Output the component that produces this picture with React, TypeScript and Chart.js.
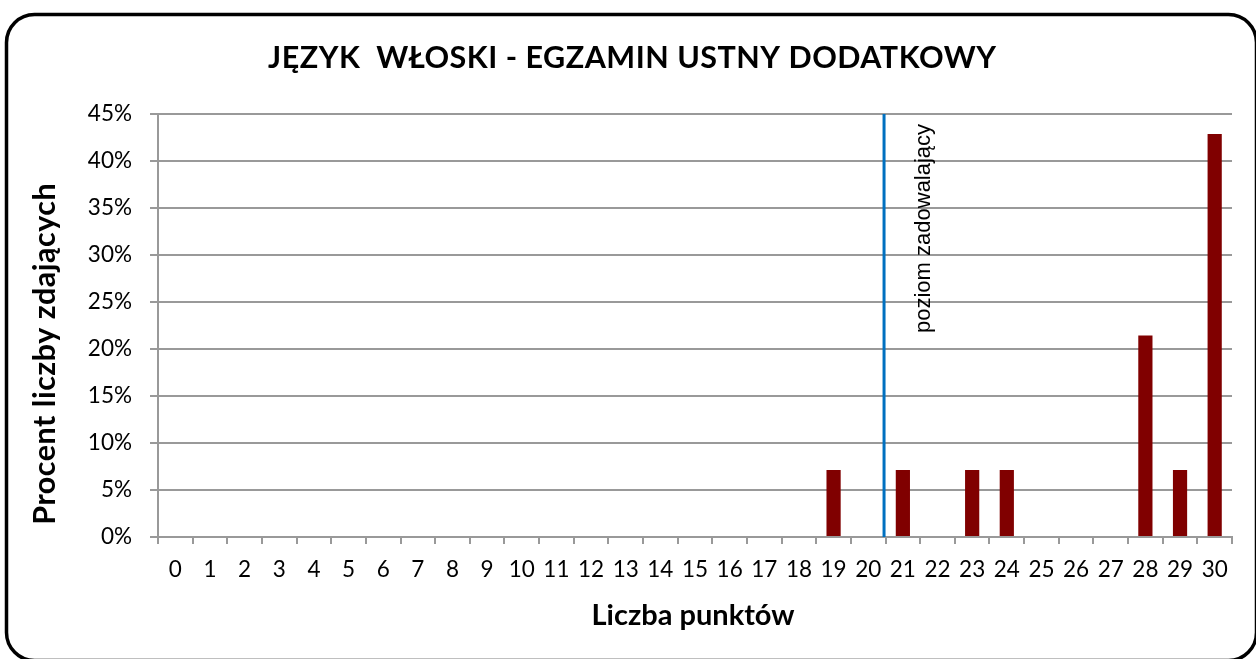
import React, { useEffect, useRef } from "react";
import { Chart, registerables } from "chart.js";

Chart.register(...registerables);

const chartTitle = "JĘZYK  WŁOSKI - EGZAMIN USTNY DODATKOWY";
const xAxisTitle = "Liczba punktów";
const yAxisTitle = "Procent liczby zdających";
const scores = [
  "0", "1", "2", "3", "4", "5", "6", "7", "8", "9", "10",
  "11", "12", "13", "14", "15", "16", "17", "18", "19", "20",
  "21", "22", "23", "24", "25", "26", "27", "28", "29", "30",
];
const percentValues = [
  0, 0, 0, 0, 0, 0, 0, 0, 0, 0, 0,
  0, 0, 0, 0, 0, 0, 0, 0, 7.14, 0,
  7.14, 0, 7.14, 7.14, 0, 0, 0, 21.43, 7.14, 42.86,
];
const yMin = 0;
const yMax = 45;
const yStep = 5;
const thresholdPosition = 20.5;
const thresholdLabel = "poziom zadowalający";

const FONT = "Lato, 'Open Sans', sans-serif";
const GRID = "#999999";

function drawText(ctx: any, text: string, x: number, y: number, font: string, spacing: number, rot: number) {
  ctx.save();
  ctx.translate(x, y);
  if (rot) ctx.rotate(rot);
  ctx.fillStyle = "#000";
  ctx.font = font;
  try {
    ctx.letterSpacing = `${spacing}px`;
  } catch (e) {}
  ctx.textAlign = "center";
  ctx.textBaseline = "alphabetic";
  ctx.fillText(text, spacing / 2, 0);
  ctx.restore();
}

const decorPlugin = {
  id: "decor",
  beforeDraw(chart: any) {
    const { ctx, width, height } = chart;
    ctx.save();
    ctx.fillStyle = "#ffffff";
    ctx.fillRect(0, 0, width, height);
    ctx.restore();
  },
  afterDraw(chart: any) {
    const { ctx, chartArea, scales } = chart;
    const xs = scales.x;
    // border
    ctx.save();
    ctx.strokeStyle = "#000";
    ctx.lineWidth = 3.5;
    ctx.beginPath();
    (ctx as any).roundRect(6.5, 14.5, 1250, 646, 28);
    ctx.stroke();
    ctx.restore();
    // titles
    drawText(ctx, chartTitle, 632, 68, `bold 30.5px ${FONT}`, 0.5, 0);
    drawText(ctx, xAxisTitle, 693, 625, `bold 29px ${FONT}`, 0, 0);
    drawText(ctx, yAxisTitle, 55, 354, `bold 30.5px ${FONT}`, 0.5, -Math.PI / 2);
    // threshold line
    const lx = xs.getPixelForValue(thresholdPosition) - 1.5;
    ctx.save();
    ctx.strokeStyle = "#0070C0";
    ctx.lineWidth = 3;
    ctx.beginPath();
    ctx.moveTo(lx, chartArea.top);
    ctx.lineTo(lx, chartArea.bottom);
    ctx.stroke();
    ctx.restore();
    // threshold label
    ctx.save();
    ctx.translate(lx + 45.5, 333);
    ctx.rotate(-Math.PI / 2);
    ctx.fillStyle = "#000";
    ctx.font = "22px 'Liberation Sans', Arial, sans-serif";
    ctx.textAlign = "left";
    ctx.textBaseline = "alphabetic";
    ctx.fillText(thresholdLabel, 0, 0);
    ctx.restore();
  },
};

export default function App() {
  const ref = useRef<HTMLCanvasElement | null>(null);
  useEffect(() => {
    if (!ref.current) return;
    const chart = new Chart(ref.current, {
      type: "bar",
      data: {
        labels: scores,
        datasets: [
          {
            data: percentValues,
            backgroundColor: "#800000",
            borderWidth: 0,
            barPercentage: 0.41,
            categoryPercentage: 1,
          },
        ],
      },
      options: {
        animation: false,
        responsive: false,
        maintainAspectRatio: false,
        layout: { padding: { left: 18, right: 24, top: 114, bottom: 0 } },
        plugins: {
          legend: { display: false },
          title: { display: false },
          tooltip: { enabled: false },
        },
        scales: {
          x: {
            afterFit: (s: any) => {
              s.height = 122;
            },
            grid: {
              drawOnChartArea: false,
              drawTicks: true,
              tickLength: 7,
              color: GRID,
              lineWidth: 2,
            },
            border: { display: true, color: GRID, width: 2 },
            ticks: {
              color: "#000",
              font: { family: FONT, size: 22.5 },
              padding: 12,
              maxRotation: 0,
              autoSkip: false,
            },
          },
          y: {
            min: yMin,
            max: yMax,
            afterFit: (s: any) => {
              s.width = 140;
            },
            ticks: {
              stepSize: yStep,
              color: "#000",
              font: { family: FONT, size: 22.5 },
              padding: 18,
              callback: (v: any) => `${v}%`,
            },
            grid: {
              color: GRID,
              lineWidth: 2,
              tickLength: 8,
            },
            border: { display: true, color: GRID, width: 2 },
          },
        },
      },
      plugins: [decorPlugin],
    } as any);
    return () => chart.destroy();
  }, []);
  return (
    <div style={{ position: "fixed", left: 0, top: 0, width: 1256, height: 659, background: "#fff" }}>
      <canvas ref={ref} width={1256} height={659} style={{ display: "block" }} />
    </div>
  );
}
